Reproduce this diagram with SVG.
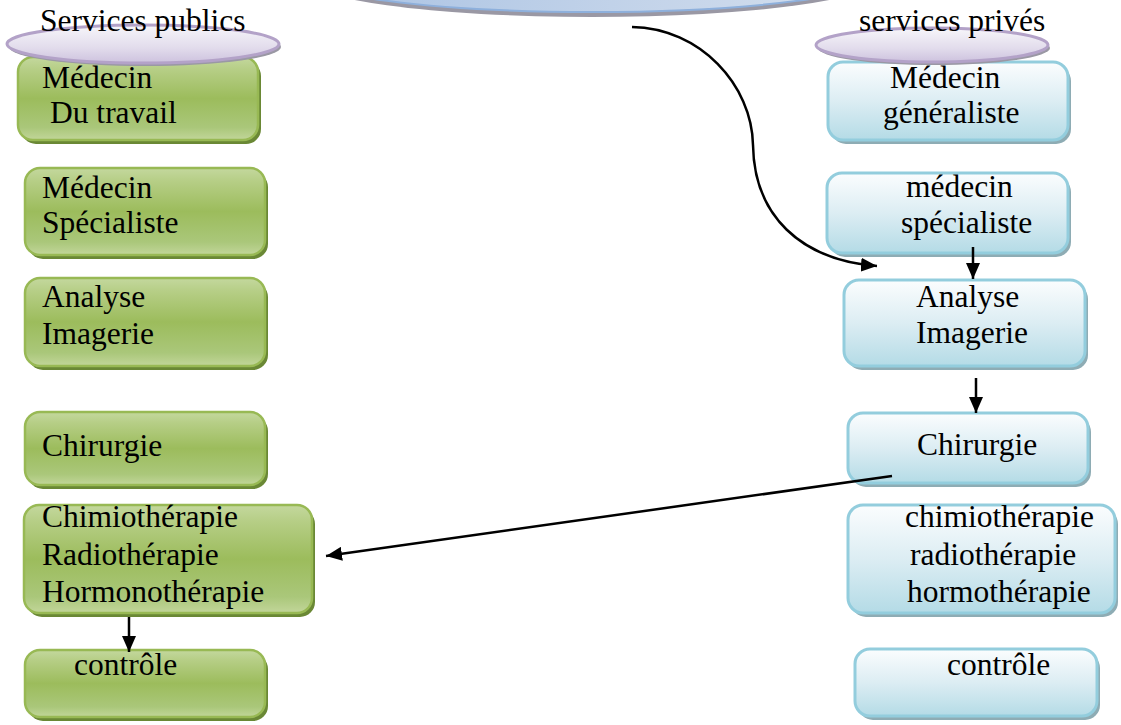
<svg xmlns="http://www.w3.org/2000/svg" width="1121" height="725" viewBox="0 0 1121 725">
<defs>
<linearGradient id="gGreen" x1="0" y1="0" x2="0" y2="1">
<stop offset="0" stop-color="#c4d89e"/>
<stop offset="0.15" stop-color="#b6ce86"/>
<stop offset="0.5" stop-color="#9cbc5c"/>
<stop offset="0.85" stop-color="#aac77a"/>
<stop offset="1" stop-color="#c2d69a"/>
</linearGradient>
<linearGradient id="gBlue" x1="0" y1="0" x2="0" y2="1">
<stop offset="0" stop-color="#fbfdfe"/>
<stop offset="0.5" stop-color="#dcedf3"/>
<stop offset="1" stop-color="#b4dbe6"/>
</linearGradient>
<linearGradient id="gLav" x1="0" y1="0" x2="0" y2="1">
<stop offset="0" stop-color="#f7f6fa"/>
<stop offset="0.6" stop-color="#e2dcec"/>
<stop offset="1" stop-color="#cdc2de"/>
</linearGradient>
<linearGradient id="gTop" x1="0" y1="0" x2="1" y2="0">
<stop offset="0" stop-color="#a9c2e3"/>
<stop offset="1" stop-color="#d6e0ee"/>
</linearGradient>
<marker id="arr" viewBox="0 0 16 14" refX="16" refY="7" markerWidth="16" markerHeight="14" markerUnits="userSpaceOnUse" orient="auto">
<path d="M0,0 L16,7 L0,14 Z" fill="#000"/>
</marker>
<style>
.gbox{fill:url(#gGreen);stroke:#98b954;stroke-width:2.5}
.gsh{fill:#6a8835}
.bbox{fill:url(#gBlue);stroke:#93cddd;stroke-width:3}
.bsh{fill:#8eacb4}
.ell{fill:url(#gLav);stroke:#b3a2c8;stroke-width:3}
.esh{fill:#9a98a4}
.t{font-family:"Liberation Serif","Times New Roman",serif;font-size:31.5px;fill:#000}
.c{fill:none;stroke:#000;stroke-width:2.5}
</style>
</defs>

<g id="top-ellipse">
<ellipse cx="592" cy="-23" rx="290" ry="40" class="esh"/>
<ellipse cx="592" cy="-26" rx="290" ry="38" fill="url(#gTop)" stroke="#8eb0dc" stroke-width="2"/>
</g>

<!-- left column (public) -->
<g id="L1">
<rect x="21" y="61" width="240" height="83" rx="15" class="gsh"/>
<rect x="18" y="57" width="240" height="83" rx="15" class="gbox"/>
<text class="t" x="42" y="88">Médecin</text>
<text class="t" x="50" y="123">Du travail</text>
</g>
<g id="L2">
<rect x="28" y="172" width="240" height="87" rx="15" class="gsh"/>
<rect x="25" y="168" width="240" height="87" rx="15" class="gbox"/>
<text class="t" x="42" y="198">Médecin</text>
<text class="t" x="42" y="233">Spécialiste</text>
</g>
<g id="L3">
<rect x="28" y="282" width="240" height="88" rx="15" class="gsh"/>
<rect x="25" y="278" width="240" height="88" rx="15" class="gbox"/>
<text class="t" x="42" y="307">Analyse</text>
<text class="t" x="42" y="344">Imagerie</text>
</g>
<g id="L4">
<rect x="28" y="416" width="240" height="73" rx="15" class="gsh"/>
<rect x="25" y="412" width="240" height="73" rx="15" class="gbox"/>
<text class="t" x="42" y="456">Chirurgie</text>
</g>
<g id="L5">
<rect x="27" y="509" width="288" height="108" rx="15" class="gsh"/>
<rect x="24" y="505" width="288" height="108" rx="15" class="gbox"/>
<text class="t" x="42" y="527">Chimiothérapie</text>
<text class="t" x="42" y="565">Radiothérapie</text>
<text class="t" x="42" y="602">Hormonothérapie</text>
</g>
<g id="L6">
<rect x="28" y="654" width="240" height="67" rx="15" class="gsh"/>
<rect x="25" y="650" width="240" height="67" rx="15" class="gbox"/>
<text class="t" x="74" y="675">contrôle</text>
</g>

<!-- right column (private) -->
<g id="R1">
<rect x="831" y="66" width="240" height="78" rx="15" class="bsh"/>
<rect x="828" y="62" width="240" height="78" rx="15" class="bbox"/>
<text class="t" x="890" y="88">Médecin</text>
<text class="t" x="883" y="123">généraliste</text>
</g>
<g id="R2">
<rect x="830" y="177" width="241" height="80" rx="15" class="bsh"/>
<rect x="827" y="173" width="241" height="80" rx="15" class="bbox"/>
<text class="t" x="906" y="197">médecin</text>
<text class="t" x="901" y="233">spécialiste</text>
</g>
<g id="R3">
<rect x="847" y="284" width="241" height="86" rx="15" class="bsh"/>
<rect x="844" y="280" width="241" height="86" rx="15" class="bbox"/>
<text class="t" x="916" y="307">Analyse</text>
<text class="t" x="916" y="343">Imagerie</text>
</g>
<g id="R4">
<rect x="851" y="417" width="240" height="70" rx="15" class="bsh"/>
<rect x="848" y="413" width="240" height="70" rx="15" class="bbox"/>
<text class="t" x="917" y="455">Chirurgie</text>
</g>
<g id="R5">
<rect x="851" y="509" width="267" height="108" rx="15" class="bsh"/>
<rect x="848" y="505" width="267" height="108" rx="15" class="bbox"/>
<text class="t" x="905" y="527">chimiothérapie</text>
<text class="t" x="910" y="565">radiothérapie</text>
<text class="t" x="907" y="602">hormothérapie</text>
</g>
<g id="R6">
<rect x="858" y="653" width="242" height="67" rx="15" class="bsh"/>
<rect x="855" y="649" width="242" height="67" rx="15" class="bbox"/>
<text class="t" x="947" y="675">contrôle</text>
</g>

<!-- header ellipses -->
<g id="H-public">
<ellipse cx="145" cy="47" rx="136" ry="19" class="esh"/>
<ellipse cx="143" cy="44" rx="136" ry="19" class="ell"/>
<text class="t" x="40" y="31">Services publics</text>
</g>
<g id="H-private">
<ellipse cx="934" cy="48" rx="116" ry="17" class="esh"/>
<ellipse cx="932" cy="45" rx="116" ry="17" class="ell"/>
<text class="t" x="859" y="31">services privés</text>
</g>

<g id="connectors">
<path class="c" d="M632,27 C700,28 752,85 753,145 C754,215 800,260 877,266" marker-end="url(#arr)"/>
<line class="c" x1="973" y1="247" x2="973" y2="279" marker-end="url(#arr)"/>
<line class="c" x1="976" y1="378" x2="976" y2="413" marker-end="url(#arr)"/>
<line class="c" x1="892" y1="476" x2="326" y2="556" marker-end="url(#arr)"/>
<line class="c" x1="129" y1="617" x2="129" y2="652" marker-end="url(#arr)"/>
</g>
</svg>
